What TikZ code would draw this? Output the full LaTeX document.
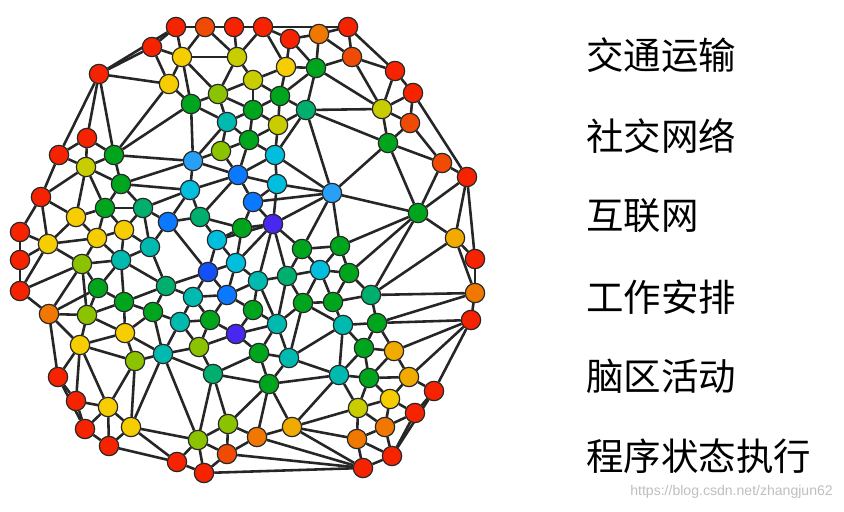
\documentclass[tikz,border=0pt]{standalone}
\usepackage{fontspec}
\newfontfamily\cjkfont{Noto Sans CJK SC}
\newfontfamily\markfont{Liberation Sans}
\usepackage{tikz}
\usetikzlibrary{backgrounds}

% jet-like palette of the vertices
\definecolor{cR}{RGB}{245,35,0}
\definecolor{cRO}{RGB}{240,75,5}
\definecolor{cO}{RGB}{240,120,0}
\definecolor{cYO}{RGB}{240,170,0}
\definecolor{cY}{RGB}{245,205,0}
\definecolor{cYG}{RGB}{200,205,0}
\definecolor{cLG}{RGB}{140,195,0}
\definecolor{cG}{RGB}{0,165,30}
\definecolor{cGT}{RGB}{0,175,110}
\definecolor{cT}{RGB}{0,185,175}
\definecolor{cC}{RGB}{0,190,220}
\definecolor{cLB}{RGB}{40,160,245}
\definecolor{cB}{RGB}{10,120,255}
\definecolor{cDB}{RGB}{20,80,245}
\definecolor{cV}{RGB}{70,40,240}

\begin{document}
\begin{tikzpicture}[
  x=0.3mm, y=-0.3mm,
  vtx/.style={circle, draw=black!85, line width=1pt, minimum size=5.8mm, inner sep=0pt},
  link/.style={line width=2.2pt, black!85},
  lbl/.style={anchor=west, inner sep=0pt, font=\cjkfont\fontsize{32}{36}\selectfont},
  wmark/.style={anchor=east, inner sep=0pt, text=black!25, font=\markfont\fontsize{12}{14}\selectfont},
]
\useasboundingbox (0,0) rectangle (844,511);

% vertices: number / x / y / colour
\foreach \i/\x/\y/\c in {
  1/176/27/cR, 2/205/27/cRO, 3/234/27/cR, 4/263/27/cR, 5/290/39/cR, 6/319/34/cO,
  7/348/27/cR, 8/152/47/cR, 9/99/74/cR, 10/352/57/cRO, 11/395/71/cR, 12/413/93/cR,
  13/410/123/cRO, 14/442/163/cRO, 15/467/177/cR, 16/455/238/cYO, 17/475/259/cR,
  18/475/293/cO, 19/471/320/cR, 20/434/391/cR, 21/415/413/cR, 22/392/456/cR,
  23/363/468/cR, 24/204/473/cR, 25/177/462/cR, 26/227/454/cRO, 27/109/446/cR,
  28/85/429/cR, 29/76/401/cR, 30/58/377/cR, 31/49/314/cO, 32/20/291/cR,
  33/20/260/cR, 34/20/232/cR, 35/41/197/cR, 36/59/155/cR, 37/87/138/cR,
  38/182/57/cY, 39/237/57/cYG, 40/169/84/cY, 41/253/80/cYG, 42/218/94/cLG,
  43/191/104/cG, 44/286/67/cY, 45/316/68/cG, 46/280/96/cG, 47/253/110/cG,
  48/306/110/cGT, 49/278/125/cYG, 50/227/122/cT, 51/249/140/cG, 52/221/151/cLG,
  53/275/155/cC, 54/193/161/cLB, 55/238/175/cB, 56/277/184/cC, 57/190/190/cC,
  58/253/202/cB, 59/273/224/cV, 60/332/193/cLB, 61/382/109/cYG, 62/388/143/cG,
  63/418/213/cG, 64/86/167/cYG, 65/114/155/cG, 66/121/184/cG, 67/76/217/cY,
  68/105/208/cG, 69/143/208/cGT, 70/168/222/cB, 71/200/217/cGT, 72/242/228/cG,
  73/48/244/cY, 74/97/238/cY, 75/124/230/cY, 76/150/247/cT, 77/217/240/cC,
  78/82/264/cLG, 79/121/260/cT, 80/208/272/cDB, 81/236/263/cC, 82/98/288/cG,
  83/124/302/cG, 84/166/286/cGT, 85/193/297/cT, 86/227/295/cB, 87/258/281/cT,
  88/87/315/cLG, 89/153/312/cG, 90/180/322/cT, 91/210/320/cG, 92/236/334/cV,
  93/253/310/cG, 94/277/324/cT, 95/125/333/cY, 96/80/345/cY, 97/163/354/cT,
  98/135/361/cLG, 99/199/347/cLG, 100/213/374/cGT, 101/259/353/cG, 102/289/358/cT,
  103/269/384/cG, 104/108/407/cY, 105/131/427/cY, 106/228/424/cLG, 107/198/440/cLG,
  108/257/437/cO, 109/292/427/cYO, 110/302/249/cG, 111/340/246/cG, 112/287/276/cGT,
  113/320/270/cC, 114/349/273/cG, 115/303/303/cG, 116/333/302/cG, 117/371/295/cGT,
  118/343/325/cT, 119/377/323/cG, 120/364/348/cG, 121/394/351/cYO, 122/339/375/cT,
  123/369/378/cG, 124/409/377/cYO, 125/390/399/cY, 126/358/408/cYG, 127/385/427/cO,
  128/357/439/cO}
  \node[vtx, fill=\c] (n\i) at (\x,\y) {};

% edges behind the vertices
\begin{pgfonlayer}{background}
\fill[white] (0,0) rectangle (844,511);
\foreach \a/\b in {
  9/8, 9/1, 9/40, 9/37, 9/36, 9/65, 8/1, 8/38, 8/40,
  1/2, 1/38, 2/3, 2/38, 2/39, 3/4, 3/39, 4/39, 4/44, 4/5, 4/7, 5/6, 5/44, 5/45,
  6/7, 6/45, 6/10, 7/10, 7/11, 10/11, 10/45, 10/61, 11/12, 11/61, 12/61, 12/13,
  12/15, 13/61, 13/62, 13/14, 14/15, 14/62, 14/63, 15/63, 15/16, 15/17,
  38/39, 38/40, 38/43, 38/42, 39/42, 39/41, 40/43, 40/65,
  41/42, 41/44, 41/46, 41/47, 42/43, 42/50, 42/47, 43/50, 43/54, 43/65,
  44/45, 44/46, 45/46, 45/48, 45/61, 46/47, 46/48, 46/49, 47/49, 47/50, 47/51,
  48/49, 48/53, 48/60, 48/61, 48/62, 49/51, 49/53, 50/51, 50/52, 50/54, 51/52,
  51/53, 51/55, 52/54, 52/55, 53/55, 53/56, 53/60, 54/55, 54/57, 54/65, 54/66,
  55/56, 55/57, 55/58, 55/71, 56/58, 56/59, 56/60, 57/66, 57/69, 57/70, 57/71,
  58/59, 58/60, 58/72, 59/60, 59/72, 59/77, 59/81, 59/87, 59/110, 59/112,
  60/62, 60/63, 60/110, 60/111, 61/62, 62/63,
  37/36, 37/64, 37/65, 36/35, 36/64, 35/34, 35/64, 35/67, 35/73, 34/33, 34/73,
  33/32, 33/73, 32/31, 32/73, 32/78, 64/65, 64/66, 64/67, 64/68, 65/66, 66/68,
  66/69, 67/68, 67/73, 67/74, 68/69, 68/74, 68/75, 69/70, 69/75, 69/76,
  70/71, 70/76, 70/80, 71/72, 71/77, 72/77, 72/81, 73/74, 73/78, 74/75, 74/78,
  74/79, 75/76, 75/79, 76/79, 76/84, 77/80, 77/81, 78/79, 78/82, 78/88, 78/31,
  79/82, 79/83, 79/84, 80/81, 80/84, 80/85, 80/86, 81/86, 81/87, 82/83, 82/88,
  82/31, 83/84, 83/88, 83/89, 83/95, 84/85, 84/89, 85/86, 85/90, 85/91, 86/87,
  86/91, 86/93, 87/93, 87/112, 87/94, 88/31, 88/95, 88/96, 89/90, 89/95, 89/97,
  90/91, 90/97, 90/99, 91/92, 91/99, 92/93, 92/94, 92/99, 92/101, 93/94,
  94/101, 94/102, 94/112, 94/115,
  110/111, 110/112, 110/113, 111/113, 111/114, 111/63, 63/114, 63/117, 63/16,
  16/17, 16/117, 16/18, 17/18, 18/117, 18/19, 18/119, 19/119, 19/121, 19/124,
  19/20, 112/113, 112/115, 113/114, 113/115, 113/116, 114/116, 114/117,
  115/116, 115/102, 115/118, 116/117, 116/118, 117/119, 118/119, 118/120,
  118/122, 118/102, 119/120, 119/121, 120/121, 120/122, 120/123, 121/123,
  121/124, 122/123, 122/126, 122/109, 122/102, 122/103, 123/124, 123/125,
  123/126, 124/125, 124/20, 125/126, 125/127, 125/21, 126/127, 126/128,
  126/109, 127/128, 127/21, 127/22, 128/22, 128/23, 128/109,
  20/21, 20/22, 21/22, 22/23, 23/109, 23/108, 23/26, 23/24,
  100/99, 100/97, 100/101, 100/103, 100/106, 100/107, 97/98, 97/99, 97/107,
  97/105, 98/95, 98/96, 98/104, 98/105, 96/95, 96/31, 96/30, 96/104, 96/29,
  31/30, 30/29, 29/28, 28/27, 27/25, 30/28, 104/29, 104/105, 104/27, 104/28,
  105/27, 105/25, 105/107, 25/24, 25/107, 24/26, 24/107, 26/107, 26/106,
  26/108, 106/107, 106/108, 106/103, 108/103, 108/109, 109/103, 103/101,
  103/102, 101/102, 95/97}
  \draw[link] (n\a) -- (n\b);
\end{pgfonlayer}

% application areas
\node[lbl] (traffic) at (586,55)  {交通运输};
\node[lbl] (social)  at (586,136) {社交网络};
\node[lbl] (inet)    at (586,216) {互联网};
\node[lbl] (work)    at (586,297) {工作安排};
\node[lbl] (brain)   at (586,376) {脑区活动};
\node[lbl] (prog)    at (586,456) {程序状态执行};

\node[wmark] (url) at (833,492) {https://blog.csdn.net/zhangjun62};
\end{tikzpicture}
\end{document}
